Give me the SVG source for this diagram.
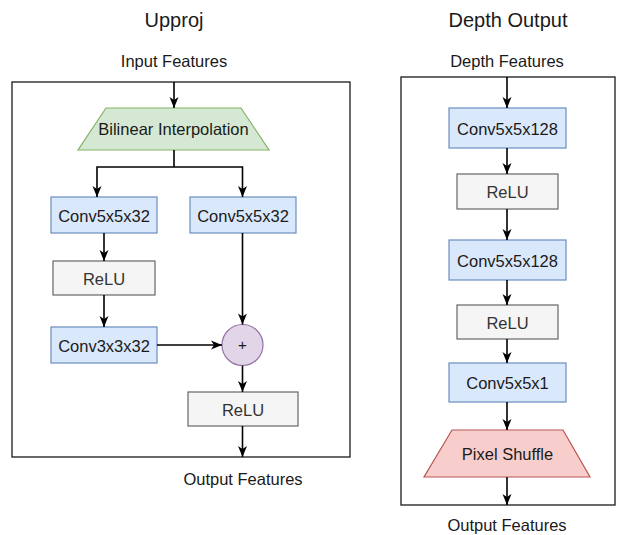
<svg xmlns="http://www.w3.org/2000/svg" width="617" height="535" viewBox="0 0 617 535">
<style>
text{font-family:"Liberation Sans",Arial,sans-serif;font-size:16.5px;text-anchor:middle;fill:#1a1a1a}
.title{font-size:20px}
.frame{fill:#ffffff;stroke:#1a1a1a;stroke-width:1.3}
.blue{fill:#dae8fc;stroke:#6c8ebf;stroke-width:1.2}
.grey{fill:#f5f5f5;stroke:#666666;stroke-width:1.2}
.green{fill:#d5e8d4;stroke:#82b366;stroke-width:1.2}
.red{fill:#f8cecc;stroke:#b85450;stroke-width:1.2}
.purple{fill:#e1d5e7;stroke:#9673a6;stroke-width:1.2}
.gt{fill:#333333}
.edge{fill:none;stroke:#000000;stroke-width:1.6}
.arr{marker-end:url(#ah)}
</style>
<defs>
<marker id="ah" viewBox="-11 -5 11 10" refX="0" refY="0" markerWidth="11" markerHeight="10" markerUnits="userSpaceOnUse" orient="auto">
<path d="M-11,-4.5 L0,0 L-11,4.5 L-8,0 Z" fill="#000000"/>
</marker>
</defs>
<rect width="617" height="535" fill="#ffffff"/>

<g id="upproj-title"><text class="title" x="174" y="27">Upproj</text></g>
<g id="upproj-input"><text x="174" y="67">Input Features</text></g>
<g id="upproj-frame"><rect class="frame" x="12" y="82" width="338" height="375"/></g>

<g id="bilinear">
<polygon class="green" points="106,108 241,108 269,150 78,150"/>
<text x="173.5" y="135">Bilinear Interpolation</text>
</g>
<g id="conv5-left"><rect class="blue" x="51" y="197" width="106" height="36"/><text x="104" y="222">Conv5x5x32</text></g>
<g id="conv5-right"><rect class="blue" x="190" y="197" width="106" height="36"/><text x="243" y="222">Conv5x5x32</text></g>
<g id="relu-left"><rect class="grey" x="53" y="261" width="102" height="34"/><text class="gt" x="104" y="284.5">ReLU</text></g>
<g id="conv3"><rect class="blue" x="51" y="327" width="106" height="36"/><text x="104" y="351.5">Conv3x3x32</text></g>
<g id="plus"><circle class="purple" cx="242.5" cy="345" r="20.5"/><text x="242.5" y="350" style="font-size:15px">+</text></g>
<g id="relu-right"><rect class="grey" x="188" y="392" width="110" height="34"/><text class="gt" x="243" y="415.5">ReLU</text></g>
<g id="upproj-output"><text x="243" y="485">Output Features</text></g>

<g id="depth-title"><text class="title" x="508" y="27">Depth Output</text></g>
<g id="depth-input"><text x="507" y="67">Depth Features</text></g>
<g id="depth-frame"><rect class="frame" x="401" y="77" width="214" height="428"/></g>
<g id="d-conv1"><rect class="blue" x="449" y="108" width="117" height="40"/><text x="507.5" y="135">Conv5x5x128</text></g>
<g id="d-relu1"><rect class="grey" x="457" y="174" width="101" height="35"/><text class="gt" x="507.5" y="197.5">ReLU</text></g>
<g id="d-conv2"><rect class="blue" x="449" y="240" width="117" height="40"/><text x="507.5" y="267">Conv5x5x128</text></g>
<g id="d-relu2"><rect class="grey" x="457" y="305" width="101" height="34"/><text class="gt" x="507.5" y="328.5">ReLU</text></g>
<g id="d-conv3"><rect class="blue" x="449" y="363" width="117" height="39"/><text x="507.5" y="389">Conv5x5x1</text></g>
<g id="pixel-shuffle"><polygon class="red" points="452,430 563,430 590,477 424,477"/><text x="507.5" y="460">Pixel Shuffle</text></g>
<g id="depth-output"><text x="507" y="531">Output Features</text></g>

<g id="connectors">
<path class="edge arr" d="M174,82 L174,108"/>
<path class="edge" d="M174,150 L174,167"/>
<path class="edge arr" d="M174,167 L97,167 L97,197"/>
<path class="edge arr" d="M174,167 L242.5,167 L242.5,197"/>
<path class="edge arr" d="M104,233 L104,261"/>
<path class="edge arr" d="M104,295 L104,327"/>
<path class="edge arr" d="M242.5,233 L242.5,324.5"/>
<path class="edge arr" d="M157,345 L222,345"/>
<path class="edge arr" d="M242.5,365.5 L242.5,392"/>
<path class="edge arr" d="M242.5,426 L242.5,457"/>
<path class="edge arr" d="M507,77 L507,108"/>
<path class="edge arr" d="M507,148 L507,174"/>
<path class="edge arr" d="M507,209 L507,240"/>
<path class="edge arr" d="M507,280 L507,305"/>
<path class="edge arr" d="M507,339 L507,363"/>
<path class="edge arr" d="M507,402 L507,430"/>
<path class="edge arr" d="M507,477 L507,505"/>
</g>
</svg>
